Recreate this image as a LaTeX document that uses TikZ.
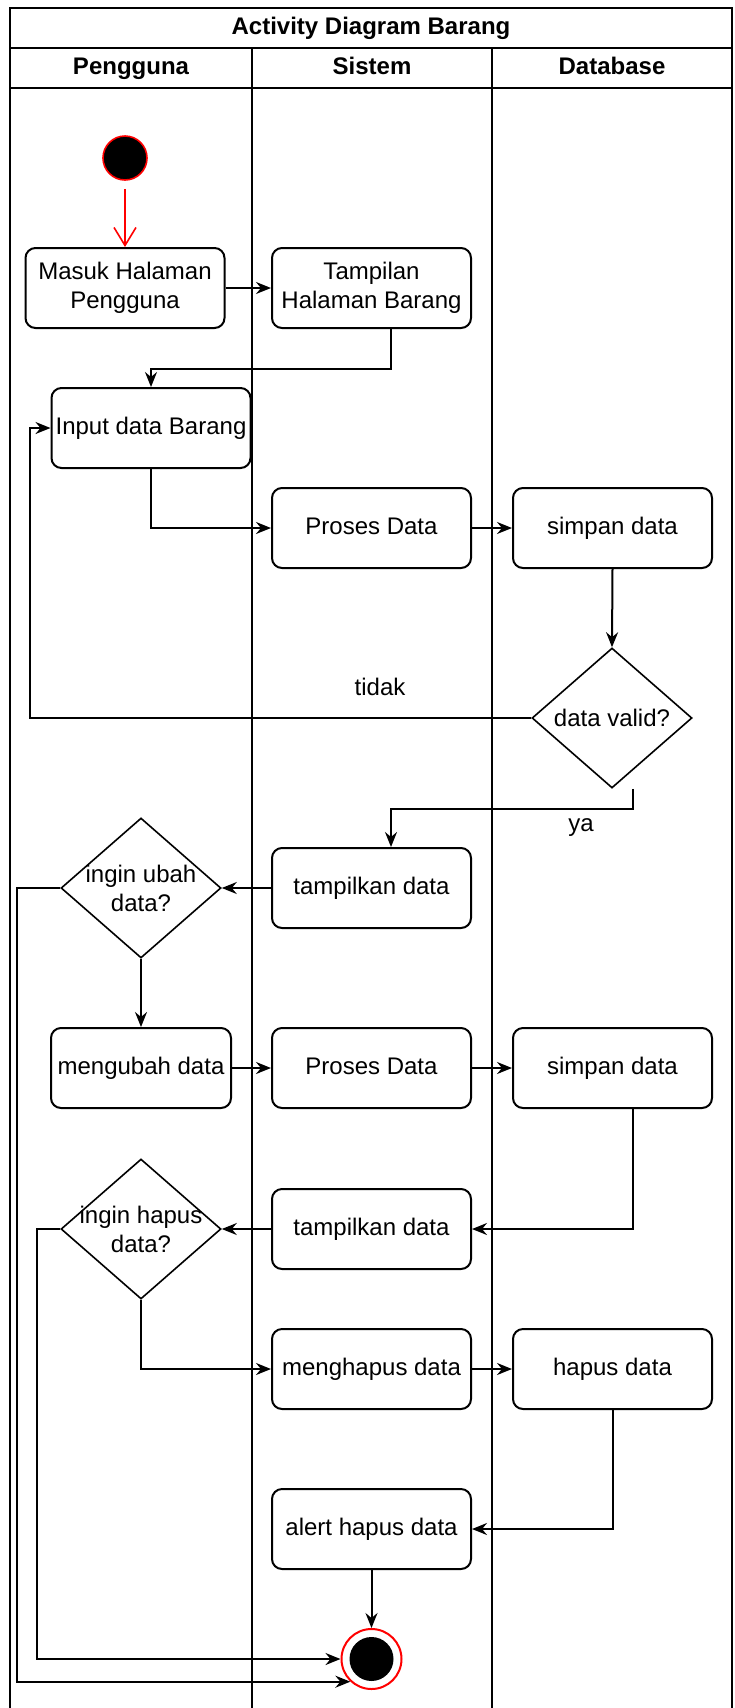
\documentclass[tikz,border=0pt]{standalone}
\usepackage{fontspec}
\setmainfont{Liberation Sans}
\usetikzlibrary{arrows.meta,shapes.geometric,calc}
\begin{document}
\begin{tikzpicture}[x=0.5pt,y=-0.5pt,
  font=\fontsize{12pt}{14.5pt}\selectfont,
  act/.style={draw, line width=1pt, rounded corners=5pt, minimum width=99.5pt,
    minimum height=40pt, align=center, inner sep=1pt, text height=9pt, text depth=2.6pt},
  twoline/.style={text height=23.5pt},
  decision/.style={draw, line width=0.8pt, diamond, minimum width=80pt,
    minimum height=70pt, inner sep=0pt},
  flow/.style={line width=1pt, -{Stealth[length=7.5pt,width=6pt,inset=2.5pt]}},
  lane/.style={line width=0.9pt},
  head/.style={font=\fontsize{12pt}{14.5pt}\selectfont\bfseries, text height=8.6pt, text depth=2.6pt}]

\useasboundingbox (0,0) rectangle (734,1708);

% swimlane frame
\draw[lane] (10,1708) -- (10,8) -- (732,8) -- (732,1708);
\draw[lane] (10,48) -- (732,48);
\draw[lane] (10,88) -- (732,88);
\draw[lane] (252,48) -- (252,1708);
\draw[lane] (492,48) -- (492,1708);

\node[head] (title) at (371,28) {Activity Diagram Barang};
\node[head] (hpengguna) at (131,68) {Pengguna};
\node[head] (hsistem) at (372,68) {Sistem};
\node[head] (hdatabase) at (612,68) {Database};

% start / end
\node[circle, fill=black, draw=red, line width=0.8pt, minimum size=22pt, inner sep=0pt] (start) at (125,158) {};
\node[circle, draw=red, fill=white, line width=1pt, minimum size=30pt, inner sep=0pt] (endc) at (371.5,1659) {};
\node[circle, fill=black, minimum size=22pt, inner sep=0pt] (endin) at (371.5,1659) {};

% activities
\node[act, twoline] (masuk) at (125,288) {Masuk Halaman\\Pengguna};
\node[act, twoline] (tampilan) at (371.5,288) {Tampilan\\Halaman Barang};
\node[act] (input) at (151,428) {Input data Barang};
\node[act] (proses1) at (371.5,528) {Proses Data};
\node[act] (simpan1) at (612.5,528) {simpan data};
\node[decision, label={[align=center]center:data valid?}] (valid) at (612,718) {};
\node[act] (tampil1) at (371.5,888) {tampilkan data};
\node[decision, label={[align=center]center:ingin ubah\\data?}] (ubah) at (141,888) {};
\node[act, minimum width=90pt] (mengubah) at (141,1068) {mengubah data};
\node[act] (proses2) at (371.5,1068) {Proses Data};
\node[act] (simpan2) at (612.5,1068) {simpan data};
\node[act] (tampil2) at (371.5,1229) {tampilkan data};
\node[decision, label={[align=center]center:ingin hapus\\data?}] (hapus) at (141,1229) {};
\node[act] (menghapus) at (371.5,1369) {menghapus data};
\node[act] (hapusdata) at (612.5,1369) {hapus data};
\node[act] (alert) at (371.5,1529) {alert hapus data};

% connectors
\draw[red, line width=0.8pt, -{Straight Barb[length=9pt,width=11pt]}, shorten <=4pt] (start.south) -- (masuk.north);
\draw[flow] (masuk.east) -- (tampilan.west);
\draw[flow] ([xshift=9.75pt]tampilan.south) -- ++(0,40) -| (input.north);
\draw[flow] (input.south) |- (proses1.west);
\draw[flow] (proses1.east) -- (simpan1.west);
\draw[flow] (simpan1.south) -- (valid.north);
\draw[flow] (valid.west) -| ([xshift=-10.5pt]input.west) -- (input.west);
\node (tidak) at (380,687) {tidak};
\draw[flow] ([xshift=10.5pt]valid.south) -- ++(0,20) -| ([xshift=9.75pt]tampil1.north);
\node (ya) at (581,828) {ya};
\draw[flow] (tampil1.west) -- (ubah.east);
\draw[flow] (ubah.south) -- (mengubah.north);
\draw[flow] (ubah.west) -- ++(-43,0) |- (endc.227);
\draw[flow] (mengubah.east) -- (proses2.west);
\draw[flow] (proses2.east) -- (simpan2.west);
\draw[flow] ([xshift=10.25pt]simpan2.south) |- (tampil2.east);
\draw[flow] (tampil2.west) -- (hapus.east);
\draw[flow] (hapus.west) -- ++(-23,0) |- (endc.west);
\draw[flow] (hapus.south) |- (menghapus.west);
\draw[flow] (menghapus.east) -- (hapusdata.west);
\draw[flow] (hapusdata.south) |- (alert.east);
\draw[flow] (alert.south) -- (endc.north);
\end{tikzpicture}
\end{document}
